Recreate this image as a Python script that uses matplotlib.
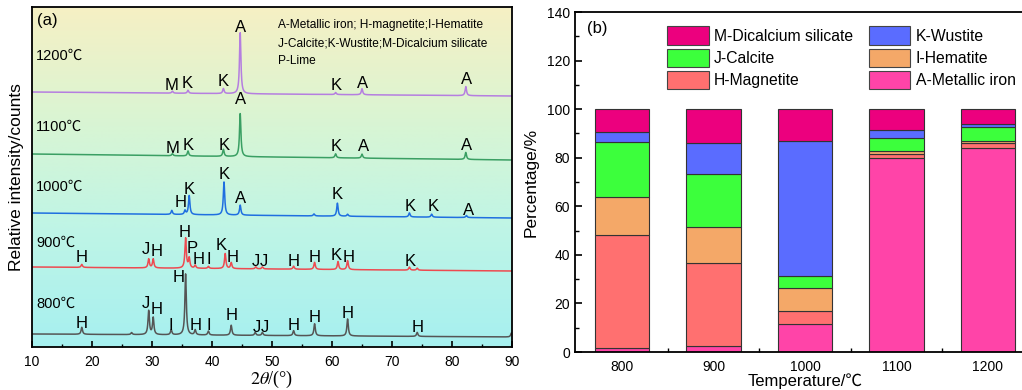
import numpy as np
import matplotlib
matplotlib.use("Agg")
import matplotlib.pyplot as plt
from matplotlib.colors import LinearSegmentedColormap
from matplotlib.patches import Patch
from matplotlib.ticker import MultipleLocator, FixedLocator

plt.rcParams['font.family'] = ['Liberation Sans', 'Noto Sans CJK SC', 'DejaVu Sans']
plt.rcParams['mathtext.fontset'] = 'stix'

# ---------------- XRD patterns (panel a) ----------------
temps_xrd = ['800', '900', '1000', '1100', '1200']
curve_colors = ['#555555', '#ee4a50', '#1f6fe0', '#3a9f63', '#b57ee0']

# baseline level at 10 deg and at 90 deg (arbitrary intensity units, offset stacked)
base_left = [13, 80, 134, 193, 255]
base_right = [10, 76, 129, 187, 251]

# peak position (2theta) and height for every pattern
peaks_800 = [(18.3, 7), (26.6, 2), (29.45, 24), (30.2, 17), (33.2, 5), (35.6, 61),
             (37.2, 5), (39.4, 4), (43.2, 10), (47.2, 3), (48.4, 3), (53.6, 5),
             (57.1, 12), (62.6, 17), (74.2, 4), (89.9, 4)]
peaks_900 = [(18.3, 3), (29.45, 9), (30.2, 9), (35.6, 30), (36.2, 10), (37.2, 3),
             (39.4, 2), (42.2, 15), (43.2, 6), (47.3, 2), (48.4, 2), (53.6, 3),
             (57.1, 7), (61.0, 8), (62.6, 9), (72.9, 3), (74.2, 2)]
peaks_1000 = [(33.3, 4), (35.5, 4), (36.2, 19), (42.0, 33), (44.7, 10), (57.0, 2),
              (60.9, 13), (62.6, 2), (72.9, 4), (76.6, 3), (82.4, 2)]
peaks_1100 = [(33.4, 2), (36.0, 5), (41.9, 7), (44.7, 43), (60.6, 4), (65.0, 4), (82.3, 7)]
peaks_1200 = [(33.4, 2), (36.0, 3), (41.9, 5), (44.7, 61), (60.6, 2), (65.0, 6), (82.3, 9)]
all_peaks = [peaks_800, peaks_900, peaks_1000, peaks_1100, peaks_1200]

# phase letters: (letter, 2theta, y)
labels_800 = [('H', 18.3, 24), ('J', 29.0, 44), ('H', 30.7, 37), ('I', 33.1, 22),
              ('H', 34.4, 69), ('H', 37.2, 21), ('I', 39.4, 21), ('H', 43.2, 31),
              ('J', 47.5, 20), ('J', 48.8, 20), ('H', 53.6, 21), ('H', 57.1, 30),
              ('H', 62.6, 34), ('H', 74.2, 19)]
labels_900 = [('H', 18.3, 89), ('J', 29.0, 97), ('H', 30.7, 95), ('H', 35.4, 114),
              ('P', 36.7, 98), ('H', 37.8, 88), ('I', 39.4, 88), ('K', 41.5, 101),
              ('H', 43.4, 90), ('J', 47.3, 86), ('J', 48.6, 86), ('H', 53.6, 86),
              ('H', 57.1, 89), ('K', 60.7, 91), ('H', 62.8, 90), ('K', 73.1, 85)]
labels_1000 = [('H', 34.8, 144), ('K', 36.2, 157), ('K', 42.0, 172), ('A', 44.8, 148),
               ('K', 60.9, 152), ('K', 73.0, 140), ('K', 76.8, 140), ('A', 82.7, 136)]
labels_1100 = [('M', 33.4, 198), ('K', 36.0, 201), ('K', 42.0, 201), ('A', 44.8, 247),
               ('K', 60.7, 200), ('A', 65.2, 200), ('A', 82.5, 201)]
labels_1200 = [('M', 33.2, 262), ('K', 35.9, 264), ('K', 41.9, 265), ('A', 44.8, 319),
               ('K', 60.7, 262), ('A', 65.1, 264), ('A', 82.5, 268)]
all_labels = [labels_800, labels_900, labels_1000, labels_1100, labels_1200]
temp_label_y = [43, 104, 160, 220, 291]

# ---------------- phase fractions (panel b) ----------------
temps_bar = ['800', '900', '1000', '1100', '1200']
metallic_iron = [1.5, 2.5, 11.7, 79.7, 84.2]
magnetite = [46.5, 34.0, 5.2, 2.0, 1.9]
hematite = [15.7, 15.1, 9.6, 1.0, 0.9]
calcite = [22.8, 21.9, 4.8, 5.5, 5.7]
wustite = [3.9, 12.4, 55.6, 3.4, 1.0]
dicalcium_silicate = [9.6, 14.1, 13.1, 8.4, 6.3]

phase_names = ['A-Metallic iron', 'H-Magnetite', 'I-Hematite', 'J-Calcite',
               'K-Wustite', 'M-Dicalcium silicate']
phase_values = [metallic_iron, magnetite, hematite, calcite, wustite, dicalcium_silicate]
phase_colors = ['#ff44a8', '#ff7070', '#f4a868', '#3cff3c', '#5a6cff', '#ec007e']

fig = plt.figure(figsize=(10.22, 3.9), dpi=100)

# ===== (a) =====
ax1 = fig.add_axes([32 / 1022, 1 - 347 / 390, 480 / 1022, 340 / 390])
bg = LinearSegmentedColormap.from_list(
    'bg', [(0.0, '#a6f0f0'), (0.35, '#bff5e6'), (0.65, '#d8f5d4'), (1.0, '#f6f0c4')])
ax1.imshow(np.linspace(0, 1, 256).reshape(-1, 1), cmap=bg, origin='lower',
           extent=[10, 90, 0, 340], aspect='auto', zorder=0)

tt = np.arange(10, 90.001, 0.02)
for i in range(5):
    y = base_left[i] + (base_right[i] - base_left[i]) * (tt - 10) / 80
    for pos, h in all_peaks[i]:
        g = 0.14
        y = y + h * g ** 2 / ((tt - pos) ** 2 + g ** 2)
    ax1.plot(tt, y, color=curve_colors[i], lw=1.1, zorder=2)
    for letter, px, py in all_labels[i]:
        ax1.text(px, py, letter, fontsize=12, ha='center', va='center', zorder=3)
    ax1.text(10.7, temp_label_y[i], temps_xrd[i] + '℃', fontsize=10.5,
             ha='left', va='center', zorder=3)

ax1.text(51, 322, 'A-Metallic iron; H-magnetite;I-Hematite', fontsize=8.6, va='center')
ax1.text(51, 304, 'J-Calcite;K-Wustite;M-Dicalcium silicate', fontsize=8.6, va='center')
ax1.text(51, 286, 'P-Lime', fontsize=8.6, va='center')
ax1.text(10.8, 327, '(a)', fontsize=12, va='center')

ax1.set_xlim(10, 90)
ax1.set_ylim(0, 340)
ax1.set_yticks([])
ax1.xaxis.set_major_locator(MultipleLocator(10))
ax1.xaxis.set_minor_locator(MultipleLocator(5))
ax1.tick_params(axis='x', which='major', direction='in', length=4, width=1.2,
                labelsize=10, pad=6)
ax1.tick_params(axis='x', which='minor', direction='in', length=2.5, width=1)
for s in ax1.spines.values():
    s.set_linewidth(1.3)
ax1.set_xlabel(r'$2\it{\theta}$/(°)', fontsize=13, family='Liberation Serif', labelpad=0)
ax1.set_ylabel('Relative intensity/counts', fontsize=12.5)
ax1.yaxis.set_label_coords(-0.016, 0.5)

# ===== (b) =====
ax2 = fig.add_axes([575 / 1022, 1 - 352 / 390, 460 / 1022, 340 / 390])
xpos = np.arange(1, 6)
bottom = np.zeros(5)
handles = []
for name, vals, col in zip(phase_names, phase_values, phase_colors):
    ax2.bar(xpos, vals, 0.6, bottom=bottom, color=col, edgecolor='#333333',
            linewidth=0.8, zorder=2)
    bottom = bottom + np.array(vals)
    handles.append(Patch(facecolor=col, edgecolor='#444444', linewidth=0.8, label=name))

order = [5, 3, 1, 4, 2, 0]
ax2.legend([handles[k] for k in order], [phase_names[k] for k in order], ncol=2,
           loc='upper left', bbox_to_anchor=(0.2, 0.958), frameon=False, fontsize=11.3,
           handlelength=2.65, handleheight=1.42, labelspacing=0.25,
           handletextpad=0.35, columnspacing=1.0, borderpad=0, borderaxespad=0)

ax2.text(0.025, 0.95, '(b)', transform=ax2.transAxes, fontsize=12, va='center')
ax2.set_xlim(0.486, 5.514)
ax2.set_ylim(0, 140)
ax2.set_xticks(xpos)
ax2.set_xticklabels(temps_bar)
ax2.xaxis.set_minor_locator(FixedLocator([1.5, 2.5, 3.5, 4.5]))
ax2.yaxis.set_major_locator(MultipleLocator(20))
ax2.yaxis.set_minor_locator(MultipleLocator(10))
ax2.tick_params(which='major', direction='in', length=5, width=1.2, labelsize=10)
ax2.tick_params(which='minor', direction='in', length=3, width=1)
ax2.tick_params(axis='x', pad=6)
for s in ax2.spines.values():
    s.set_linewidth(1.3)
ax2.set_xlabel('Temperature/℃', fontsize=12, labelpad=-1)
ax2.set_ylabel('Percentage/%', fontsize=12.5, labelpad=6)

fig.savefig('out.png', dpi=100)
